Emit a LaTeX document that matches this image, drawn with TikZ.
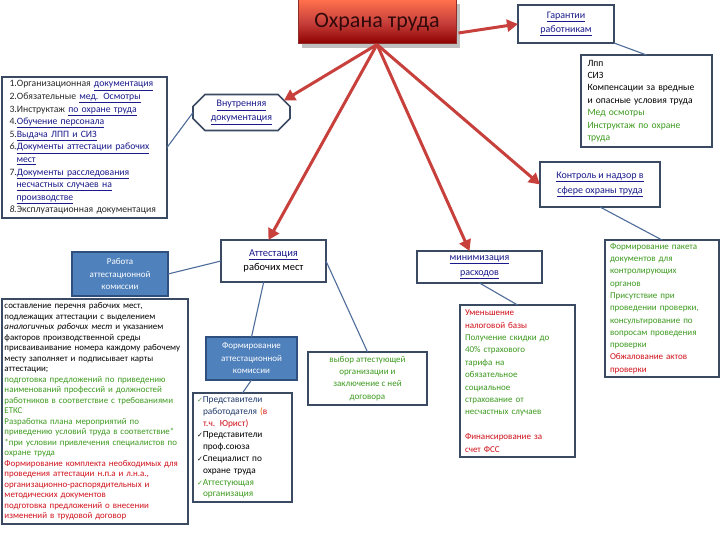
\documentclass[tikz,border=0pt]{standalone}
\usepackage{fontspec}
\setmainfont{Carlito}
\newfontfamily\dejavu{DejaVu Sans}
\usetikzlibrary{arrows.meta,shapes.misc,calc}
\definecolor{boxc}{HTML}{3B4A63}
\definecolor{connc}{HTML}{4F6D9A}
\definecolor{redc}{HTML}{C8403C}
\definecolor{fillb}{HTML}{4F81BD}
\definecolor{fillbd}{HTML}{2F4F7F}
\definecolor{linkc}{HTML}{1A1A8C}
\definecolor{grn}{HTML}{3C9A1E}
\definecolor{rd}{HTML}{D0101A}
\definecolor{navy}{HTML}{1F3A6A}
\newcommand\ck{{\dejavu\fontsize{7}{7}\selectfont ✓}}
\newcommand\ul[1]{\underline{#1}}
\begin{document}
\begin{tikzpicture}[x=1pt,y=-1pt,
  box/.style={draw=boxc,line width=1.6pt,fill=white,inner sep=0pt,outer sep=0pt},
  fbox/.style={draw=fillbd,line width=1.2pt,fill=fillb,text=white,inner sep=0pt,outer sep=0pt,align=center},
  conn/.style={draw=connc,line width=1.1pt},
  redarr/.style={draw=redc,line width=3pt,-{Triangle[length=11pt,width=12pt]}},
  fs/.style 2 args={font=\fontsize{#1}{#2}\selectfont}]
\useasboundingbox (0,0) rectangle (720,540);
\fill[white] (0,0) rectangle (720,540);

% title
\fill[gray!50] (302,4) rectangle (460,48);
\node[draw=redc!70!black,line width=1pt,top color=red!60!orange!70!white,bottom color=red!55!black,
  middle color=redc,minimum width=158pt,minimum height=44pt,inner sep=0pt,text={rgb,255:red,50;green,10;blue,10},
  fs={22}{26}] (title) at (377,22) {Охрана труда};

% guarantees
\node[box,minimum width=96pt,minimum height=38pt,align=center,text=linkc,fs={10}{14}] (guar) at (566,24)
  {\ul{Гарантии}\\\ul{работникам}};
\node[box,minimum width=131pt,minimum height=92pt,text width=118pt,align=left,fs={9.6}{12.4}] (glist) at (646.5,101)
  {Лпп\\СИЗ\\Компенсации за вредные\\и опасные условия труда\\
   \textcolor{grn}{Мед осмотры}\\\textcolor{grn}{Инструктаж по охране}\\\textcolor{grn}{труда}};

% left list
\node[box,minimum width=165pt,minimum height=141pt,text width=150pt,align=left,fs={9.7}{12.6},text={rgb,255:red,40;green,40;blue,40}] (llist) at (84.5,147.5)
  {1.Организационная \textcolor{linkc}{\ul{документация}}\\
   2.Обязательные \textcolor{linkc}{\ul{мед. Осмотры}}\\
   3.Инструктаж \textcolor{linkc}{\ul{по охране труда}}\\
   4.\textcolor{linkc}{\ul{Обучение персонала}}\\
   5.\textcolor{linkc}{\ul{Выдача ЛПП и СИЗ}}\\
   \textit{6.}\textcolor{linkc}{\ul{Документы аттестации рабочих}}\\
   \hspace*{7pt}\textcolor{linkc}{\ul{мест}}\\
   7.\textcolor{linkc}{\ul{Документы расследования}}\\
   \hspace*{7pt}\textcolor{linkc}{\ul{несчастных случаев на}}\\
   \hspace*{7pt}\textcolor{linkc}{\ul{производстве}}\\
   \textit{8.}Эксплуатационная документация};

% internal docs
\node[box,chamfered rectangle,chamfered rectangle xsep=6pt,chamfered rectangle ysep=6pt,
  minimum width=97pt,minimum height=35pt,align=center,text=linkc,fs={10}{14}] (intdoc) at (241.5,112.5)
  {\ul{Внутренняя}\\\ul{документация}};

% control
\node[box,minimum width=120pt,minimum height=45pt,align=center,text=linkc,fs={10}{15}] (ctrl) at (600,184.5)
  {\ul{Контроль и надзор в}\\\ul{сфере охраны труда}};

% right box
\node[box,minimum width=114pt,minimum height=137pt,text width=104pt,align=left,fs={9}{12.3},text=grn] (rbox) at (662,308.5)
  {Формирование пакета\\документов для\\контролирующих\\органов\\Присутствие при\\проведении проверки,\\
   консультирование по\\вопросам проведения\\проверки\\\textcolor{rd}{Обжалование актов}\\\textcolor{rd}{проверки}};

% attestation
\node[box,minimum width=105pt,minimum height=42pt,align=center,fs={10.5}{14}] (att) at (273.5,261)
  {\textcolor{linkc}{\ul{Аттестация}}\\рабочих мест};

% work of commission
\node[fbox,minimum width=96pt,minimum height=44pt,fs={9}{12.5}] (work) at (120,274)
  {Работа\\аттестационной\\комиссии};

% big left box
\node[box,minimum width=186pt,minimum height=225pt,text width=181pt,align=left,fs={8.9}{10.5}] (bigl) at (95,411.5)
  {составление перечня рабочих мест,\\
   подлежащих аттестации с выделением\\
   \textit{аналогичных рабочих мест} и указанием\\
   факторов производственной среды\\
   присваиваивание номера каждому рабочему\\
   месту заполняет и подписывает карты\\
   аттестации;\\
   \textcolor{grn}{подготовка предложений по приведению}\\
   \textcolor{grn}{наименований профессий и должностей}\\
   \textcolor{grn}{работников в соответствие с требованиями}\\
   \textcolor{grn}{ЕТКС}\\
   \textcolor{grn}{Разработка плана мероприятий по}\\
   \textcolor{grn}{приведению условий труда в соответствие*}\\
   \textcolor{grn}{*при условии привлечения специалистов по}\\
   \textcolor{grn}{охране труда}\\
   \textcolor{rd}{Формирование комплекта необходимых для}\\
   \textcolor{rd}{проведения аттестации н.п.а и л.н.а.,}\\
   \textcolor{rd}{организационно-распорядительных и}\\
   \textcolor{rd}{методических документов}\\
   \textcolor{rd}{подготовка предложений о внесении}\\
   \textcolor{rd}{изменений в трудовой договор}};

% forming commission
\node[fbox,minimum width=91pt,minimum height=43pt,fs={9}{12.5}] (form) at (251.5,358.5)
  {Формирование\\аттестационной\\комиссии};

% checklist
\node[box,minimum width=99pt,minimum height=109pt,text width=91pt,align=left,fs={9.3}{11.8}] (check) at (242.5,447.5)
  {\textcolor{grn!60!gray}{\ck}\textcolor{navy}{Представители}\\
   \hspace*{6pt}\textcolor{navy}{работодателя} \textcolor{orange!80!red}{(}\textcolor{rd}{в}\\
   \hspace*{6pt}\textcolor{rd}{т.ч. Юрист)}\\
   \ck Представители\\
   \hspace*{6pt}проф.союза\\
   \ck Специалист по\\
   \hspace*{6pt}охране труда\\
   \textcolor{grn}{\ck Аттестующая}\\
   \hspace*{6pt}\textcolor{grn}{организация}};

% choice of organisation
\node[box,minimum width=119pt,minimum height=53pt,align=center,text=grn,fs={9}{12.3}] (vybor) at (367.5,378.5)
  {выбор аттестующей\\организации и\\заключение с ней\\договора};

% minimisation
\node[box,minimum width=125pt,minimum height=32pt,align=center,text=linkc,fs={10}{15}] (minim) at (479.5,267)
  {\ul{минимизация}\\\ul{расходов}};

% reduction box
\node[box,minimum width=115pt,minimum height=152pt,text width=105pt,align=left,fs={9}{12.4},text=grn] (umen) at (517.5,381)
  {\textcolor{rd}{Уменьшение}\\\textcolor{rd}{налоговой базы}\\Получение скидки до\\40\% страхового\\тарифа на\\обязательное\\
   социальное\\страхование от\\несчастных случаев\\[12.4pt]\textcolor{rd}{Финансирование за}\\\textcolor{rd}{счет ФСС}};

% connectors
\draw[conn] (guar.south east) -- (glist.north);
\draw[conn] (llist.east) -- (intdoc.west);
\draw[conn] (ctrl.south) -- (rbox.north);
\draw[conn] (work.east) -- (att.west);
\draw[conn] (att.-115) -- (form.north);
\draw[conn] (form.south) -- (check.north);
\draw[conn] (att.east) -- (vybor.north);
\draw[conn] (minim.south) -- (umen.north);

% red arrows
\draw[redarr] ($(title.east)+(2,11)$) -- (guar.west);
\draw[redarr] (title.south) -- (intdoc.north east);
\draw[redarr] (title.south) -- ($(att.north)+(-5,0)$);
\draw[redarr] (title.south) -- ($(minim.north)+(-10,0)$);
\draw[redarr] (title.south) -- (ctrl.west);
\end{tikzpicture}
\end{document}
